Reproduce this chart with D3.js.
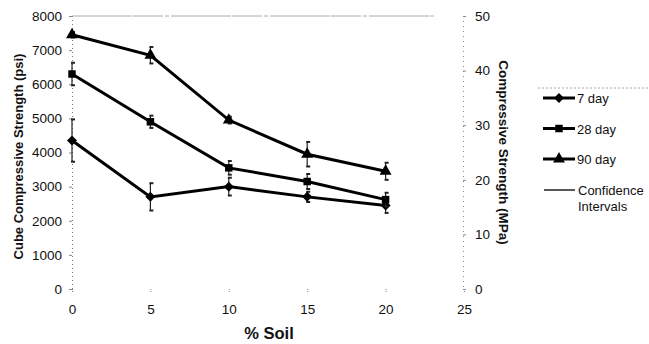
<!DOCTYPE html>
<html>
<head>
<meta charset="utf-8">
<script src="https://cdn.jsdelivr.net/npm/d3@7"></script>
<style>
  html, body { margin: 0; padding: 0; background: #fff; }
  svg { display: block; font-family: Arial, "Liberation Sans", sans-serif; }
</style>
</head>
<body>
<svg id="chart" width="649" height="344"></svg>
<script>
// Soil content (%)
const soil = [0, 5, 10, 15, 20];

// Mean cube compressive strength (psi)
const day7  = [4350, 2700, 3000, 2700, 2450];
const day28 = [6300, 4900, 3550, 3150, 2620];
const day90 = [7450, 6850, 4950, 3950, 3450];

// Half-width of the confidence intervals (psi)
const ci7  = [620, 400, 260, 150, 220];
const ci28 = [330, 180, 200, 220, 200];
const ci90 = [80, 240, 100, 360, 250];

const xTicks = [0, 5, 10, 15, 20, 25];
const psiTicks = [0, 1000, 2000, 3000, 4000, 5000, 6000, 7000, 8000];
const mpaTicks = [0, 10, 20, 30, 40, 50];

const seriesNames = ["7 day", "28 day", "90 day"];

// square-proportioned diamond marker
const squareDiamond = {
  draw(ctx, size) {
    const r = Math.sqrt(size / 2);
    ctx.moveTo(0, -r); ctx.lineTo(r, 0); ctx.lineTo(0, r); ctx.lineTo(-r, 0); ctx.closePath();
  }
};
const seriesShapes = [squareDiamond, d3.symbolSquare, d3.symbolTriangle];
const seriesSizes = [50, 56, 62];

const svg = d3.select("#chart");
const plotL = 72, plotR = 464, plotT = 16, plotB = 289;

const x = d3.scaleLinear().domain([0, 25]).range([plotL, plotR]);
const y = d3.scaleLinear().domain([0, 8000]).range([plotB, plotT]);
const y2 = d3.scaleLinear().domain([0, 50]).range([plotB, plotT]);

// frame: faint top rule and dotted side axes
svg.append("line")
  .attr("x1", plotL).attr("x2", plotR - 30)
  .attr("y1", plotT).attr("y2", plotT)
  .attr("stroke", "#aaa").attr("stroke-width", 1)
  .attr("stroke-dasharray", "60,1,30,2,4,2");

const gL = svg.append("g").attr("transform", `translate(${plotL},0)`)
  .call(d3.axisLeft(y).tickValues(psiTicks).tickSize(3).tickPadding(7).tickFormat(d3.format("d")));
gL.select(".domain").attr("stroke", "#777").attr("stroke-dasharray", "1,3");

const gR = svg.append("g").attr("transform", `translate(${plotR - 1},0)`)
  .call(d3.axisRight(y2).tickValues(mpaTicks).tickSize(3).tickPadding(9));
gR.select(".domain").attr("stroke", "#888").attr("stroke-dasharray", "1,4");

const gB = svg.append("g").attr("transform", `translate(0,${plotB})`)
  .call(d3.axisBottom(x).tickValues(xTicks).tickSize(3).tickPadding(12));
gB.select(".domain").remove();

[gL, gR, gB].forEach(g => {
  g.selectAll("text").attr("font-size", 13.5).attr("fill", "#111")
    .attr("font-family", "Arial, 'Liberation Sans', sans-serif");
  g.selectAll(".tick line").attr("stroke", "#888");
});
gB.selectAll(".tick line").attr("stroke-dasharray", "1,1");

// axis titles
svg.append("text")
  .attr("transform", `translate(23,${(plotT + plotB) / 2 + 4}) rotate(-90)`)
  .attr("text-anchor", "middle").attr("font-weight", "bold").attr("font-size", 13)
  .attr("fill", "#111").text("Cube Compressive Strength (psi)");

svg.append("text")
  .attr("transform", `translate(499,${(plotT + plotB) / 2}) rotate(90)`)
  .attr("text-anchor", "middle").attr("font-weight", "bold").attr("font-size", 13.5)
  .attr("fill", "#111").text("Compressive Strength (MPa)");

svg.append("text")
  .attr("x", 269).attr("y", 339)
  .attr("text-anchor", "middle").attr("font-weight", "bold").attr("font-size", 16.5)
  .attr("fill", "#111").text("% Soil");

// series
const allSeries = [
  { name: seriesNames[0], values: day7, ci: ci7 },
  { name: seriesNames[1], values: day28, ci: ci28 },
  { name: seriesNames[2], values: day90, ci: ci90 }
];

const line = d3.line().x((d, i) => x(soil[i])).y(d => y(d));

allSeries.forEach((s, k) => {
  const g = svg.append("g");
  g.append("path").datum(s.values)
    .attr("d", line).attr("fill", "none")
    .attr("stroke", "#000").attr("stroke-width", 3);

  // confidence interval bars
  s.values.forEach((v, i) => {
    const cx = x(soil[i]);
    const y1 = y(v + s.ci[i]), y0 = y(v - s.ci[i]);
    g.append("line").attr("x1", cx).attr("x2", cx).attr("y1", y1).attr("y2", y0)
      .attr("stroke", "#222").attr("stroke-width", 1.2);
    g.append("line").attr("x1", cx - 1).attr("x2", cx + 3).attr("y1", y1).attr("y2", y1)
      .attr("stroke", "#222").attr("stroke-width", 2);
    g.append("line").attr("x1", cx - 1).attr("x2", cx + 3).attr("y1", y0).attr("y2", y0)
      .attr("stroke", "#222").attr("stroke-width", 2);
  });

  g.selectAll("path.pt").data(s.values).enter().append("path")
    .attr("class", "pt")
    .attr("transform", (d, i) => `translate(${x(soil[i])},${y(d)})`)
    .attr("d", d3.symbol().type(seriesShapes[k]).size(seriesSizes[k]))
    .attr("fill", "#000");
});

// legend
const lg = svg.append("g");
lg.append("line").attr("x1", 538).attr("x2", 649).attr("y1", 88).attr("y2", 88)
  .attr("stroke", "#aaa").attr("stroke-dasharray", "2,2");

seriesNames.forEach((name, k) => {
  const ly = 98 + k * 30.5;
  lg.append("line").attr("x1", 543).attr("x2", 575).attr("y1", ly).attr("y2", ly)
    .attr("stroke", "#000").attr("stroke-width", 3);
  lg.append("path").attr("transform", `translate(559,${ly})`)
    .attr("d", d3.symbol().type(seriesShapes[k]).size(seriesSizes[k]))
    .attr("fill", "#000");
  lg.append("text").attr("x", 577).attr("y", ly + 5)
    .attr("font-size", 13).attr("fill", "#111").text(name);
});

lg.append("line").attr("x1", 544).attr("x2", 575).attr("y1", 190).attr("y2", 190)
  .attr("stroke", "#222").attr("stroke-width", 1.5);
lg.append("text").attr("x", 578).attr("y", 195)
  .attr("font-size", 13).attr("fill", "#111").text("Confidence");
lg.append("text").attr("x", 578).attr("y", 211)
  .attr("font-size", 13).attr("fill", "#111").text("Intervals");
</script>
</body>
</html>
